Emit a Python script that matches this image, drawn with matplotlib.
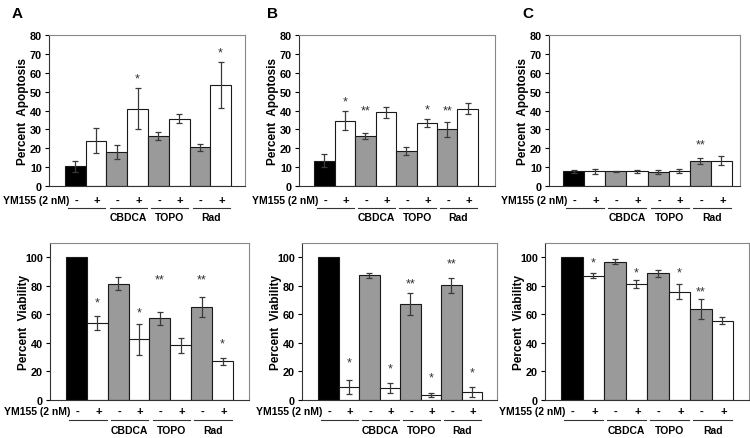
import numpy as np
import matplotlib
matplotlib.use('Agg')
import matplotlib.pyplot as plt
from matplotlib.transforms import offset_copy

plt.rcParams['font.family'] = ['Liberation Sans', 'DejaVu Sans']
plt.rcParams['font.weight'] = 'bold'

# YM155 sign under each bar, and the treatment groups (pairs of bars)
signs = ['-', '+', '-', '+', '-', '+', '-', '+']
groups = ['', 'CBDCA', 'TOPO', 'Rad']

# Percent apoptosis (top row)
apop_A = [10.5, 24.0, 18.0, 41.0, 26.5, 35.7, 20.5, 53.5]
apop_A_err = [3.0, 6.5, 3.5, 11.0, 2.0, 2.3, 2.0, 12.0]
apop_A_star = ['', '', '', '*', '', '', '', '*']
apop_A_star_y = [0, 0, 0, 58.7, 0, 0, 0, 72.5]

apop_B = [13.5, 34.5, 26.5, 39.0, 18.5, 33.3, 30.0, 41.0]
apop_B_err = [3.5, 5.0, 1.8, 3.0, 2.0, 2.3, 4.0, 2.8]
apop_B_star = ['', '*', '**', '', '', '*', '**', '']
apop_B_star_y = [0, 47, 42, 0, 0, 42.7, 42, 0]

apop_C = [7.7, 7.7, 7.7, 7.7, 7.3, 8.0, 13.2, 13.5]
apop_C_err = [1.0, 1.5, 0.3, 0.6, 1.0, 1.0, 1.6, 2.5]
apop_C_star = ['', '', '', '', '', '', '**', '']
apop_C_star_y = [0, 0, 0, 0, 0, 0, 24, 0]

# Percent viability (bottom row)
viab_A = [100, 54.0, 81.5, 42.5, 57.2, 38.2, 65.5, 27.0]
viab_A_err = [0, 5.0, 4.5, 11.0, 4.5, 5.0, 7.0, 2.5]
viab_A_star = ['', '*', '', '*', '**', '', '**', '*']
viab_A_star_y = [0, 71, 0, 64, 87, 0, 87, 42]

viab_B = [100, 9.0, 87.3, 8.3, 67.3, 3.5, 80.3, 5.5]
viab_B_err = [0, 5.0, 2.0, 3.5, 8.0, 1.5, 5.0, 3.5]
viab_B_star = ['', '*', '', '*', '**', '*', '**', '*']
viab_B_star_y = [0, 28.7, 0, 25, 84.5, 18.7, 98.6, 21.8]

viab_C = [100, 87.0, 97.0, 81.0, 88.7, 76.0, 64.0, 55.5]
viab_C_err = [0, 1.8, 2.0, 2.8, 2.7, 5.0, 7.0, 2.5]
viab_C_star = ['', '*', '', '*', '', '*', '**', '']
viab_C_star_y = [0, 98.8, 0, 91.8, 0, 91.8, 78.4, 0]

colors = ['black', 'white', '#9a9a9a', 'white', '#9a9a9a', 'white', '#9a9a9a', 'white']

W, H = 750, 439
fig = plt.figure(figsize=(7.5, 4.39), dpi=100)


def make_panel(box, bars, vals, errs, stars, star_y, ylim, yticks, ylabel, top_row):
    l, t, r, b = box
    ax = fig.add_axes([l / W, 1 - b / H, (r - l) / W, (b - t) / H])
    x = np.arange(len(vals))
    ax.bar(x, vals, width=1.0, color=colors, edgecolor='#1a1a1a', linewidth=0.8, zorder=2)
    for xi, v, e in zip(x, vals, errs):
        if e > 0:
            ax.errorbar(xi, v, yerr=e, fmt='none', ecolor='#3a3a3a', elinewidth=0.9,
                        capsize=2.5, capthick=0.9, zorder=3)
    for xi, s, sy in zip(x, stars, star_y):
        if s:
            ax.annotate(s, (xi, sy), xytext=(0, -4.8), textcoords='offset points',
                        ha='center', va='baseline', fontsize=9, fontweight='normal',
                        color='#333333')
    bw = (bars[1] - bars[0]) / len(vals)
    ax.set_xlim(-0.5 - (bars[0] - l) / bw, len(vals) - 0.5 + (r - bars[1]) / bw)
    ax.set_ylim(*ylim)
    ax.set_yticks(yticks)
    ax.set_xticks([])
    ax.tick_params(axis='y', direction='out', length=3, width=0.8, labelsize=7.8, pad=2)
    for lab in ax.get_yticklabels():
        lab.set_fontweight('bold')
    for sp in ['left', 'bottom']:
        ax.spines[sp].set_color('#333333')
        ax.spines[sp].set_linewidth(0.8)
    for sp in ['top', 'right']:
        ax.spines[sp].set_color('#888888')
        ax.spines[sp].set_linewidth(0.8)
    ax.set_ylabel(ylabel, fontsize=8.5, fontweight='bold')
    ax.yaxis.set_label_coords(-20 / (r - l), 0.5)

    # labels under the bars
    d_sign, d_line, d_grp = (-14, -22, -31) if top_row else (-11, -20, -30)
    tr = ax.get_xaxis_transform()
    tr_sign = offset_copy(tr, fig=fig, y=d_sign, units='dots')
    tr_line = offset_copy(tr, fig=fig, y=d_line, units='dots')
    tr_grp = offset_copy(tr, fig=fig, y=d_grp, units='dots')
    for xi, s in zip(x, signs):
        ax.text(xi + 0.05, 0, s, transform=tr_sign, ha='center', va='center',
                fontsize=8, fontweight='bold')
    ax.text(-0.3, 0, 'YM155 (2 nM)', transform=tr_sign, ha='right', va='center',
            fontsize=7.5, fontweight='bold')
    for k, g in enumerate(groups):
        ax.plot([2 * k - 0.35, 2 * k + 1.45], [0, 0], transform=tr_line, color='#333333',
                lw=0.8, clip_on=False)
        if g:
            ax.text(2 * k + 0.55, 0, g, transform=tr_grp, ha='center', va='center',
                    fontsize=7.5, fontweight='bold')
    return ax


top_lim, top_ticks = (0, 80), np.arange(0, 81, 10)
bot_lim, bot_ticks = (0, 110), np.arange(0, 101, 20)

make_panel((49, 36, 245, 187), (65, 231), apop_A, apop_A_err, apop_A_star, apop_A_star_y,
           top_lim, top_ticks, 'Percent  Apoptosis', True)
make_panel((299, 36, 495, 187), (314, 478), apop_B, apop_B_err, apop_B_star, apop_B_star_y,
           top_lim, top_ticks, 'Percent  Apoptosis', True)
make_panel((549, 36, 740, 187), (563, 732), apop_C, apop_C_err, apop_C_star, apop_C_star_y,
           top_lim, top_ticks, 'Percent  Apoptosis', True)

make_panel((50, 244, 249, 401), (66, 233), viab_A, viab_A_err, viab_A_star, viab_A_star_y,
           bot_lim, bot_ticks, 'Percent  Viability', False)
make_panel((302, 244, 497, 401), (318, 482), viab_B, viab_B_err, viab_B_star, viab_B_star_y,
           bot_lim, bot_ticks, 'Percent  Viability', False)
make_panel((545, 244, 749, 401), (561, 733), viab_C, viab_C_err, viab_C_star, viab_C_star_y,
           bot_lim, bot_ticks, 'Percent  Viability', False)

for letter, px in [('A', 17), ('B', 272), ('C', 528)]:
    fig.text(px / W, 1 - 14 / H, letter, ha='center', va='center', fontsize=11,
             fontweight='bold')

fig.savefig('out.png', dpi=100)
